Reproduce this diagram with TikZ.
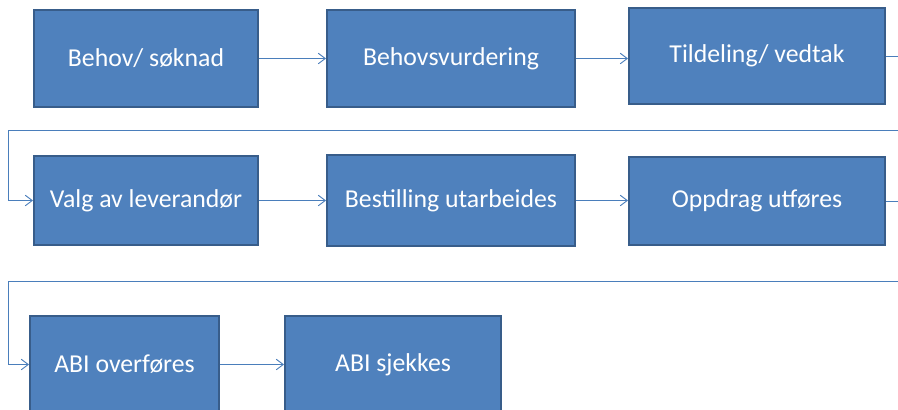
\documentclass[tikz,border=0pt]{standalone}
\usepackage{fontspec}
\setmainfont{Carlito}
\usetikzlibrary{arrows.meta}
\definecolor{boxfill}{RGB}{79,129,189}
\definecolor{boxline}{RGB}{56,93,138}
\definecolor{flowline}{RGB}{74,126,187}

\begin{document}
\begin{tikzpicture}[x=0.03cm, y=-0.03cm, >={Straight Barb[length=6pt, width=9pt]},
    stepbox/.style={rectangle, draw=boxline, line width=1.6pt, fill=boxfill, text=white, align=center, font=\fontsize{22}{26}\selectfont},
    flow/.style={->, line width=0.8pt, flowline}]

    \useasboundingbox (0,0) rectangle (898,409);
    \clip (0,0) rectangle (898,409);

    % Row 1
    \node[stepbox, minimum width=6.72cm, minimum height=2.91cm] (soknad) at (146,58.5) {Behov/ søknad};
    \node[stepbox, minimum width=7.44cm, minimum height=2.91cm] (vurdering) at (451,58.5) {Behovsvurdering};
    \node[stepbox, minimum width=7.68cm, minimum height=2.88cm] (vedtak) at (757,56) {Tildeling/ vedtak};

    \draw[flow] (soknad) -- (vurdering);
    \draw[flow] (vurdering) -- (vurdering -| vedtak.west);

    % Row 2
    \node[stepbox, minimum width=6.72cm, minimum height=2.67cm] (leverandor) at (146,200.5) {Valg av leverandør};
    \node[stepbox, minimum width=7.44cm, minimum height=2.73cm] (bestilling) at (451,200.5) {Bestilling utarbeides};
    \node[stepbox, minimum width=7.68cm, minimum height=2.64cm] (oppdrag) at (757,201) {Oppdrag utføres};

    \coordinate (turn1) at (8,130);
    \draw[flow] (vedtak.east) -- ++(20,0) |- (turn1) |- (leverandor.west);
    \draw[flow] (leverandor) -- (bestilling);
    \draw[flow] (bestilling) -- (bestilling -| oppdrag.west);

    % Row 3
    \node[stepbox, minimum width=5.67cm, minimum height=2.91cm] (overfores) at (124.5,364.5) {ABI overføres};
    \node[stepbox, minimum width=6.48cm, minimum height=2.91cm] (sjekkes) at (393,364.5) {ABI sjekkes};

    \coordinate (turn2) at (8,281);
    \draw[flow] (oppdrag.east) -- ++(20,0) |- (turn2) |- (overfores.west);
    \draw[flow] (overfores) -- (sjekkes);

\end{tikzpicture}
\end{document}
